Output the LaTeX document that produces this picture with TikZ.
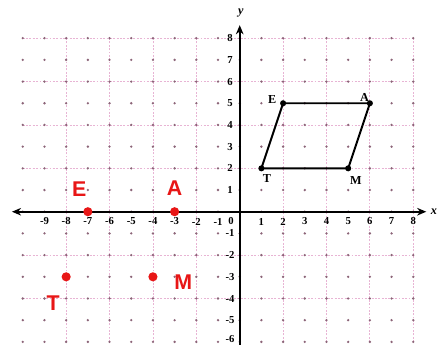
\documentclass[tikz,border=0pt]{standalone}
\usepackage{fontspec}
\setmainfont{Liberation Serif}
\newfontfamily\handfont{Liberation Sans}
\usetikzlibrary{arrows.meta}
\definecolor{gridpink}{RGB}{232,180,212}
\definecolor{griddot}{RGB}{140,100,120}
\definecolor{penred}{RGB}{232,22,22}
\tikzset{
  gridline/.style={gridpink, line width=0.5pt, dash pattern=on 1.2pt off 1pt},
  axisline/.style={black, line width=1.3pt},
  axistip/.style={-{Stealth[length=6pt,width=5pt]}},
  axistips/.style={{Stealth[length=6pt,width=5pt]}-{Stealth[length=6pt,width=5pt]}},
  ticklab/.style={font=\fontsize{7}{8}\selectfont\bfseries, inner sep=0pt},
  vert/.style={circle, fill=black, inner sep=0pt, minimum size=4pt},
  vlab/.style={font=\fontsize{8}{9}\selectfont\bfseries, inner sep=0pt},
  reddot/.style={circle, fill=penred, inner sep=0pt, minimum size=6pt},
  redlab/.style={font=\handfont\fontsize{14}{15}\selectfont\bfseries, text=penred, inner sep=0pt},
  outline/.style={black, line width=1.3pt}
}
\begin{document}
\begin{tikzpicture}[x=0.5cm,y=0.5cm]
\useasboundingbox (-11.05,-6.14) rectangle (9.14,9.76);
\fill[white] (-11.05,-6.14) rectangle (9.14,9.76);
% grid
\draw[gridline] (-10,-6) grid (8,8);
\foreach \x in {-10,...,8}
  \foreach \y in {-6,...,8}
    \fill[griddot] (\x,\y) circle (0.06);
% axes
\coordinate (xl) at (-10.5,0);
\coordinate (xr) at (8.6,0);
\coordinate (yb) at (0,-6.14);
\coordinate (yt) at (0,8.6);
\draw[axisline, axistips] (xl) -- (xr);
\draw[axisline, axistip] (yb) -- (yt);
\node[font=\fontsize{8}{9}\selectfont\bfseries\itshape] (xname) at (8.95,0) {x};
\node[font=\fontsize{8}{9}\selectfont\bfseries\itshape] (yname) at (0.05,9.15) {y};
% tick labels
\foreach \x in {-9,...,-1,1,2,...,8}
  \node[ticklab] (tx\x) at (\x,-0.45) {\x};
\node[ticklab] (o) at (-0.4,-0.45) {0};
\foreach \y in {-5,...,-1,1,2,...,8}
  \node[ticklab] (ty\y) at (-0.45,\y) {\y};
\node[ticklab] (ty-6) at (-0.45,-5.85) {-6};
% parallelogram
\node[vert] (T) at (1,2) {};
\node[vert] (M) at (5,2) {};
\node[vert] (A) at (6,5) {};
\node[vert] (E) at (2,5) {};
\draw[outline] (T.center) -- (M.center) -- (A.center) -- (E.center) -- cycle;
\node[vlab] (Elab) at (1.5,5.15) {E};
\node[vlab] (Alab) at (5.75,5.25) {A};
\node[vlab] (Tlab) at (1.25,1.55) {T};
\node[vlab] (Mlab) at (5.35,1.45) {M};
% red handwritten image points
\node[reddot] (E2) at (-7,0) {};
\node[reddot] (A2) at (-3,0) {};
\node[reddot] (T2) at (-8,-3) {};
\node[reddot] (M2) at (-4,-3) {};
\node[redlab] (E2lab) at (-7.4,1.05) {E};
\node[redlab] (A2lab) at (-3,1.1) {A};
\node[redlab] (T2lab) at (-8.6,-4.2) {T};
\node[redlab] (M2lab) at (-2.6,-3.25) {M};
\end{tikzpicture}
\end{document}
